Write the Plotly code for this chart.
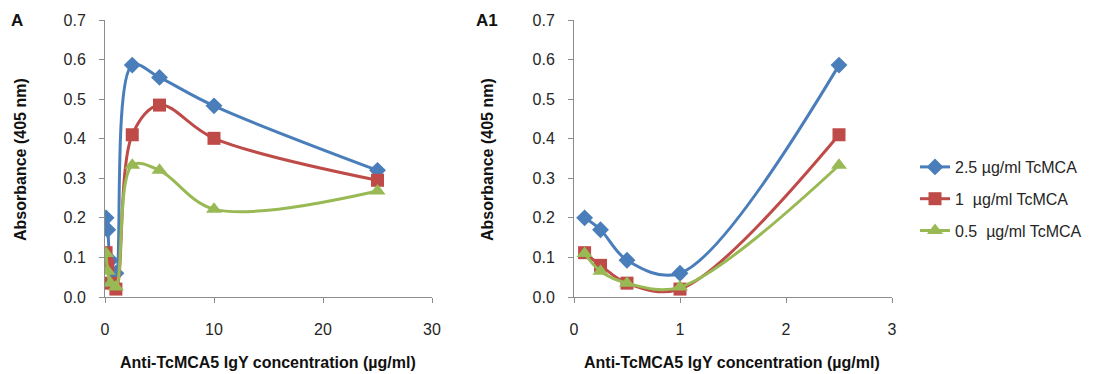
import plotly.graph_objects as go

conc = [0.1, 0.25, 0.5, 1, 2.5, 5, 10, 25]
s25 = [0.200, 0.170, 0.093, 0.060, 0.586, 0.555, 0.483, 0.320]
s1 = [0.112, 0.080, 0.035, 0.020, 0.410, 0.485, 0.401, 0.295]
s05 = [0.110, 0.065, 0.035, 0.025, 0.333, 0.320, 0.222, 0.268]
names = ["2.5 µg/ml TcMCA", "1  µg/ml TcMCA", "0.5  µg/ml TcMCA"]
series = [s25, s1, s05]
colors = ["#4A7EBB", "#BE4B48", "#98B954"]
symbols = ["diamond", "square", "triangle-up"]
msizes = [13, 13, 14]
n_zoom = 5  # points shown in the A1 panel

W, H = 1105, 374
OFF = 8  # page body margin
FONT = "Liberation Sans"

fig = go.Figure()
for i, (nm, ys) in enumerate(zip(names, series)):
    fig.add_trace(go.Scatter(
        x=conc, y=ys, name=nm, mode="lines+markers",
        line=dict(color=colors[i], width=3, shape="spline", smoothing=1),
        marker=dict(symbol=symbols[i], size=msizes[i], color=colors[i]),
        xaxis="x", yaxis="y", showlegend=False, legendgroup=str(i)))
for i, (nm, ys) in enumerate(zip(names, series)):
    fig.add_trace(go.Scatter(
        x=conc[:n_zoom], y=ys[:n_zoom], name=nm, mode="lines+markers",
        line=dict(color=colors[i], width=3, shape="spline", smoothing=1),
        marker=dict(symbol=symbols[i], size=msizes[i], color=colors[i]),
        xaxis="x2", yaxis="y2", showlegend=True, legendgroup=str(i)))

def px(v):
    return (v - OFF) / W

def py(v):
    return 1 - (v - OFF) / H

axis_common = dict(showgrid=False, zeroline=False, showline=True, linecolor="#8c8c8c",
                   linewidth=1, ticks="outside", tickcolor="#8c8c8c", ticklen=5,
                   tickfont=dict(family=FONT, size=16, color="#262626"), automargin=False)

fig.update_layout(
    width=W, height=H, margin=dict(l=0, r=0, t=0, b=0),
    paper_bgcolor="white", plot_bgcolor="white",
    xaxis=dict(domain=[px(105), px(432)], range=[0, 30], dtick=10, anchor="y",
               ticklabelstandoff=13, **axis_common),
    yaxis=dict(domain=[py(297), py(20)], range=[0, 0.7], dtick=0.1, tickformat=".1f",
               anchor="x", ticklabelstandoff=10, **axis_common),
    xaxis2=dict(domain=[px(574), px(892)], range=[0, 3], dtick=1, anchor="y2",
                ticklabelstandoff=13, **axis_common),
    yaxis2=dict(domain=[py(297), py(20)], range=[0, 0.7], dtick=0.1, tickformat=".1f",
                anchor="x2", ticklabelstandoff=10, **axis_common),
    legend=dict(x=px(915), y=py(150), xanchor="left", yanchor="top",
                font=dict(family=FONT, size=16, color="#262626"),
                traceorder="grouped", tracegroupgap=8, itemwidth=30),
    showlegend=True,
)

ann = []
title_font = dict(family=FONT, size=16, color="#111")
for cx in [268, 732]:
    ann.append(dict(text="<b>Anti-TcMCA5 IgY concentration (µg/ml)</b>", x=px(cx), y=py(362),
                    xref="paper", yref="paper", showarrow=False, font=title_font,
                    xanchor="center", yanchor="middle"))
for cx in [20, 487]:
    ann.append(dict(text="<b>Absorbance (405 nm)</b>", x=px(cx), y=py(160),
                    xref="paper", yref="paper", showarrow=False, font=title_font,
                    textangle=-90, xanchor="center", yanchor="middle"))
ann.append(dict(text="<b>A</b>", x=px(9), y=py(20), xref="paper", yref="paper",
                showarrow=False, font=dict(family=FONT, size=17, color="#111"),
                xanchor="left", yanchor="middle"))
ann.append(dict(text="<b>A1</b>", x=px(474), y=py(20), xref="paper", yref="paper",
                showarrow=False, font=dict(family=FONT, size=17, color="#111"),
                xanchor="left", yanchor="middle"))
fig.update_layout(annotations=ann)

fig.write_html("out.html")
